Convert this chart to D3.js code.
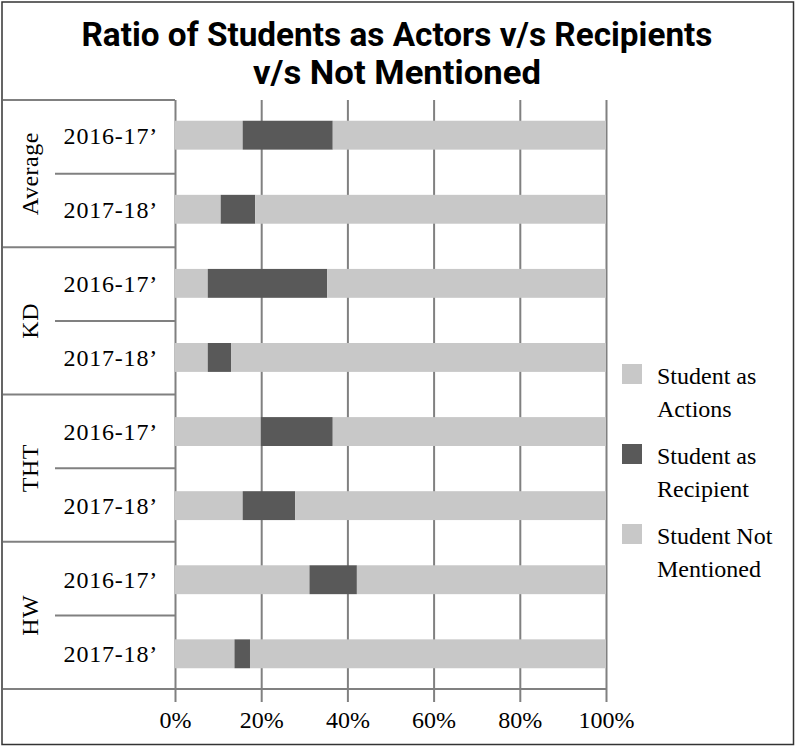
<!DOCTYPE html>
<html><head><meta charset="utf-8">
<script src="https://cdn.jsdelivr.net/npm/d3@7"></script>
<style>body{margin:0;background:#fff}svg{display:block}</style>
</head><body>
<svg id="c" width="796" height="747"></svg>
<script>
const groups = ["Average", "KD", "THT", "HW"];
const years = ["2016-17’", "2017-18’"];
const rowLabels = ["2016-17’", "2017-18’", "2016-17’", "2017-18’", "2016-17’", "2017-18’", "2016-17’", "2017-18’"];
const actors = [15.7, 10.6, 7.6, 7.6, 19.9, 15.7, 31.2, 13.8];
const recipient = [20.9, 8.0, 27.7, 5.4, 16.7, 12.2, 11.0, 3.6];
const notMentioned = [63.4, 81.4, 64.7, 87.0, 63.4, 72.1, 57.8, 82.6];
const seriesNames = ["Student as Actions", "Student as Recipient", "Student Not Mentioned"];
const legendLines = [["Student as", "Actions"], ["Student as", "Recipient"], ["Student Not", "Mentioned"]];
const xTicks = [0, 20, 40, 60, 80, 100];
const titleLines = ["Ratio of Students as Actors v/s Recipients", "v/s Not Mentioned"];

const colors = ["#c8c8c8", "#595959", "#c8c8c8"];
const serif = "'Liberation Serif', 'Times New Roman', serif";
const gridCol = "#808080";

const svg = d3.select("#c");
const W = 796, H = 747;
const pTop = 100, pBottom = 689, pLeft = 175, pRight = 606, colLeft = 3;

const rows = rowLabels.map((r, i) => ({i, actors: actors[i], recipient: recipient[i], notMentioned: notMentioned[i]}));
const keys = ["actors", "recipient", "notMentioned"];
const stack = d3.stack().keys(keys)(rows);

const x = d3.scaleLinear().domain([0, 100]).range([pLeft, pRight]);
const y = d3.scaleBand().domain(d3.range(rows.length)).range([pTop, pBottom]).paddingInner(0.61).paddingOuter(0.28);
const yg = d3.scaleBand().domain(groups).range([pTop, pBottom]);

// outer border
svg.append("rect").attr("x", 2).attr("y", 2).attr("width", W - 4.5).attr("height", H - 4.5)
  .attr("fill", "none").attr("stroke", "#333").attr("stroke-width", 1.5);

// title
titleLines.forEach((t, k) => {
  const tx = svg.append("text").attr("x", 397).attr("y", 46 + k * 38).attr("text-anchor", "middle")
    .attr("font-family", "Roboto, 'Open Sans', sans-serif").attr("font-weight", "bold").attr("font-size", 33)
    .attr("fill", "#000").text(t);
  tx.attr("textLength", k === 0 ? 631 : 288).attr("lengthAdjust", "spacingAndGlyphs");
});

// gridlines / ticks via axis
const axis = d3.axisBottom(x).tickValues(xTicks).tickSize(-(702 - pTop)).tickFormat(d => d + "%").tickPadding(0);
const ag = svg.append("g").attr("transform", `translate(0,702)`).call(axis);
ag.select(".domain").remove();
ag.selectAll(".tick line").attr("stroke", gridCol).attr("stroke-width", 2);
ag.selectAll(".tick text").attr("font-family", serif).attr("font-size", 24).attr("fill", "#000")
  .attr("y", 9).attr("dy", "0.71em");

// bars
svg.append("g").selectAll("g").data(stack).join("g").attr("fill", (d, i) => colors[i])
  .selectAll("rect").data(d => d).join("rect")
  .attr("x", d => x(d[0])).attr("width", d => x(d[1]) - x(d[0]))
  .attr("y", (d, i) => y(i)).attr("height", y.bandwidth());

// left column lines
const lines = svg.append("g").attr("stroke", gridCol).attr("stroke-width", 2);
lines.append("line").attr("x1", colLeft).attr("x2", pLeft).attr("y1", pTop).attr("y2", pTop);
groups.forEach((g, gi) => {
  if (gi > 0) lines.append("line").attr("x1", colLeft).attr("x2", pLeft).attr("y1", yg(g)).attr("y2", yg(g));
  const mid = yg(g) + yg.bandwidth() / 2;
  lines.append("line").attr("x1", 55).attr("x2", pLeft).attr("y1", mid).attr("y2", mid);
});
lines.append("line").attr("x1", colLeft).attr("x2", pRight).attr("y1", pBottom).attr("y2", pBottom);

// group labels
svg.append("g").selectAll("text").data(groups).join("text")
  .attr("transform", d => `translate(30,${yg(d) + yg.bandwidth() / 2}) rotate(-90)`)
  .attr("text-anchor", "middle").attr("dy", "0.35em").attr("letter-spacing", 0.5)
  .attr("font-family", serif).attr("font-size", 24).attr("fill", "#000").text(d => d);

// year labels
svg.append("g").selectAll("text").data(rowLabels).join("text")
  .attr("x", 158).attr("y", (d, i) => y(i) + y.bandwidth() / 2).attr("dy", "0.35em")
  .attr("letter-spacing", 0.8)
  .attr("text-anchor", "end").attr("font-family", serif).attr("font-size", 24).attr("fill", "#000").text(d => d);

// legend
const lg = svg.append("g").selectAll("g").data(seriesNames).join("g")
  .attr("transform", (d, i) => `translate(622,${364 + i * 80})`);
lg.append("rect").attr("width", 20).attr("height", 20).attr("fill", (d, i) => colors[i]);
lg.each(function (d, i) {
  const g = d3.select(this);
  legendLines[i].forEach((t, k) => {
    g.append("text").attr("x", 35).attr("y", 12 + k * 33).attr("dy", "0.35em")
      .attr("font-family", serif).attr("font-size", 24).attr("fill", "#000").text(t);
  });
});
</script>
</body></html>
